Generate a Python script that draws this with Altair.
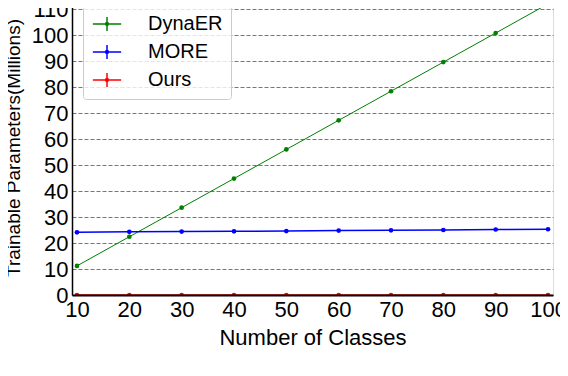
import altair as alt
import pandas as pd

classes = [10, 20, 30, 40, 50, 60, 70, 80, 90, 100]
dynaer = [11.2, 22.4, 33.6, 44.8, 56.0, 67.2, 78.4, 89.6, 100.8, 112.0]
more = [24.1, 24.3, 24.4, 24.5, 24.6, 24.8, 24.9, 25.0, 25.2, 25.3]
ours = [0.0, 0.0, 0.0, 0.0, 0.0, 0.0, 0.0, 0.0, 0.0, 0.0]
series_names = ["DynaER", "MORE", "Ours"]
series_colors = ["#008000", "#0000ff", "#ff0000"]
x_ticks = [10, 20, 30, 40, 50, 60, 70, 80, 90, 100]
y_ticks = [0, 10, 20, 30, 40, 50, 60, 70, 80, 90, 100, 110]
caption = "4. Comparison of parameter sizes between the"

rows = []
for name, vals in zip(series_names, [dynaer, more, ours]):
    for c, v in zip(classes, vals):
        rows.append({"classes": c, "params": v, "series": name})
df = pd.DataFrame(rows)

x_enc = alt.X("classes:Q",
              scale=alt.Scale(domain=[9.05, 100.95], nice=False, zero=False),
              axis=alt.Axis(values=x_ticks, title="Number of Classes", grid=False,
                            ticks=False, labelFontSize=22, titleFontSize=22,
                            labelPadding=4, titlePadding=7, labelFlush=False,
                            labelFont="Liberation Sans", titleFont="Liberation Sans",
                            titleFontWeight="normal", labelColor="black",
                            titleColor="black", domainColor="black", domainWidth=2,
                            zindex=2))
y_enc = alt.Y("params:Q",
              scale=alt.Scale(domain=[0, 113.5], nice=False, zero=True),
              axis=alt.Axis(values=y_ticks, title="Trainable Parameters(Millions)",
                            grid=True, gridDash=[4, 2], gridColor="#777777",
                            gridWidth=1, ticks=False, labelFontSize=22,
                            titleFontSize=19, labelPadding=4, titlePadding=8,
                            labelFont="Liberation Sans", titleFont="Liberation Sans",
                            titleFontWeight="normal", labelColor="black",
                            titleColor="black", domainColor="black", domainWidth=1.5,
                            labelFlush=False))

color_scale = alt.Scale(domain=series_names, range=series_colors)

legend_path = ("M-2,0H2M0,-1V1"
               "M0.2,0A0.2,0.2,0,1,1,-0.2,0A0.2,0.2,0,1,1,0.2,0Z")

lines = alt.Chart(df).mark_line(clip=True).encode(
    x=x_enc, y=y_enc,
    color=alt.Color("series:N", scale=color_scale,
                    legend=alt.Legend(title=None, orient="none", legendX=11, legendY=6,
                                      symbolType=legend_path, symbolSize=200,
                                      symbolStrokeWidth=1.5, labelFontSize=20,
                                      labelFont="Liberation Sans", labelColor="black",
                                      labelOffset=31, rowPadding=6, padding=8,
                                      strokeColor="#cccccc",
                                      fillColor="rgba(255,255,255,0.8)",
                                      cornerRadius=3, symbolOffset=6)),
    strokeWidth=alt.condition(alt.datum.series == "DynaER", alt.value(1.0),
                              alt.value(1.5)),
)

points = alt.Chart(df).mark_point(filled=True, size=22, opacity=1, clip=True).encode(
    x=x_enc, y=y_enc,
    color=alt.Color("series:N", scale=color_scale, legend=None),
)

chart = alt.layer(lines, points).properties(
    width=481, height=295,
    autosize=alt.AutoSizeParams(type="none"),
    padding={"left": 64, "top": -8, "right": 7, "bottom": 73},
    title=alt.TitleParams(caption, orient="bottom", anchor="start", frame="group",
                          dx=-72, offset=26, font="Liberation Serif", fontSize=30,
                          fontWeight="normal", color="black", baseline="top"),
).configure_view(stroke="black", strokeWidth=1.5).configure(background="white")

chart.save("out.html", embed_options={"renderer": "svg", "actions": False})
